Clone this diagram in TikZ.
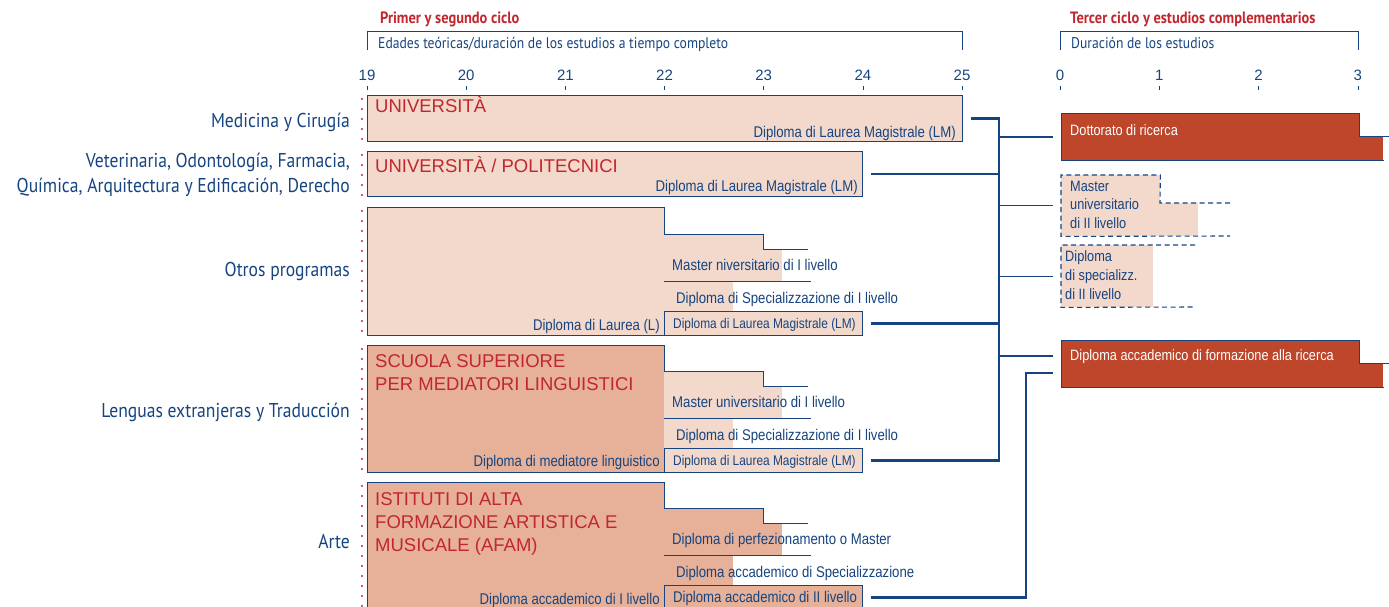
\documentclass[tikz,border=0pt]{standalone}
\usepackage{fontspec}
\setmainfont{Liberation Sans}
\newfontfamily\narrowfont{Liberation Sans}[FakeStretch=0.85]
\newfontfamily\condfont{PT Sans}[FakeStretch=0.88]
\usetikzlibrary{positioning,calc}
\definecolor{navy}{RGB}{22,68,128}
\definecolor{boxpink}{RGB}{243,217,204}
\definecolor{boxsalmon}{RGB}{230,177,152}
\definecolor{phdred}{RGB}{189,70,43}
\definecolor{titlered}{RGB}{193,39,45}

\begin{document}
\begin{tikzpicture}[x=1pt,y=-1pt,
   edge/.style={draw=navy,line width=0.9pt},
   box/.style={edge,inner sep=0pt,anchor=north west},
   link/.style={navy,line width=2.4pt},
   thinlink/.style={navy,line width=1pt},
   dashedge/.style={navy,line width=1.1pt,dash pattern=on 5pt off 3.5pt},
   reddots/.style={titlered,line width=2.4pt,line cap=round,dash pattern=on 0pt off 10pt},
   head/.style={font=\condfont\bfseries\fontsize{16.4}{18}\selectfont,text=titlered,anchor=base west,inner sep=0pt},
   headsub/.style={font=\condfont\fontsize{15.5}{18}\selectfont,text=navy,anchor=base west,inner sep=0pt},
   axisnum/.style={font=\fontsize{15}{18}\selectfont,text=navy,inner sep=0pt},
   rowlabel/.style={font=\condfont\fontsize{20}{25.5}\selectfont,text=navy,align=right,anchor=east,inner sep=0pt},
   inst/.style={font=\fontsize{18.5}{23}\selectfont,text=titlered,align=left,inner sep=0pt},
   diploma/.style={font=\narrowfont\fontsize{15.5}{18}\selectfont,text=navy,inner sep=0pt},
   smalldip/.style={diploma,font=\narrowfont\fontsize{14}{16}\selectfont},
   third/.style={font=\narrowfont\fontsize{15}{18.8}\selectfont,text=navy,align=left,anchor=north west,inner sep=0pt},
   phd/.style={font=\narrowfont\fontsize{15}{18}\selectfont,text=white,anchor=base west,inner sep=0pt}]
  \path[use as bounding box] (0,0) rectangle (1389,606);
  \clip (0,0) rectangle (1389,606);

  % headers and scales
  \node[head] (prim) at (380,23) {Primer y segundo ciclo};
  \node[headsub] (edad) at (378,48) {Edades teóricas/duración de los estudios a tiempo completo};
  \draw[edge] (367,50) |- (962,31) -- (962,50);
  \node[head] (terc) at (1070,23) {Tercer ciclo y estudios complementarios};
  \node[headsub] (durhead) at (1071,48) {Duración de los estudios};
  \draw[edge] (1060,50) |- (1358,31) -- (1358,50);
  \foreach \a [count=\i from 0] in {19,...,25} {
    \node[axisnum] (age\a) at (367+\i*99.17,75) {\a};
    \draw[edge,line width=0.6pt] (367+\i*99.17,86) -- ++(0,4);
  }
  \foreach \d in {0,...,3} {
    \node[axisnum] (yr\d) at (1060+\d*99.3,75) {\d};
    \draw[edge,line width=0.6pt] (1060+\d*99.3,86) -- ++(0,4);
  }

  % first and second cycle
  \node[box,fill=boxpink,minimum width=595,minimum height=46] (med) at (367,95) {};
  \node[box,fill=boxpink,minimum width=495,minimum height=45] (vet) at (367,151) {};
  \node[box,fill=boxpink,minimum width=297,minimum height=128] (otr) at (367,207) {};
  \node[box,fill=boxsalmon,minimum width=297,minimum height=127] (len) at (367,345) {};
  \node[box,fill=boxsalmon,minimum width=297,minimum height=130] (art) at (367,482) {};
  \foreach \b in {med,vet,otr,len,art}
    \draw[reddots] ([shift={(-5pt,-4pt)}]\b.north west) -- ([xshift=-5pt]\b.south west);

  \node[inst,anchor=base west] (medtit) at (375,112.5) {UNIVERSITÀ};
  \node[inst,anchor=base west] (vettit) at (375,172) {UNIVERSITÀ / POLITECNICI};
  \node[inst,anchor=north west] (lentit) at (375,354.5) {SCUOLA SUPERIORE\\PER MEDIATORI LINGUISTICI};
  \node[inst,anchor=north west] (arttit) at (375,492.5) {ISTITUTI DI ALTA\\FORMAZIONE ARTISTICA E\\MUSICALE (AFAM)};

  \node[diploma,anchor=base east] (medlm) at ([shift={(-7pt,4pt)}]med.south east) {Diploma di Laurea Magistrale (LM)};
  \node[diploma,anchor=base east] (vetlm) at ([shift={(-5pt,5pt)}]vet.south east) {Diploma di Laurea Magistrale (LM)};
  \node[diploma,anchor=base east] (otrl) at ([shift={(-5pt,5pt)}]otr.south east) {Diploma di Laurea (L)};
  \node[diploma,anchor=base east] (lenmed) at ([shift={(-5pt,6pt)}]len.south east) {Diploma di mediatore linguistico};
  \node[diploma,anchor=base east] (artacc) at ([shift={(-5pt,8pt)}]art.south east) {Diploma accademico di I livello};

  % follow-up courses
  \foreach \t/\fc/\nm/\st/\mas/\spe/\lmt in {
      234/boxpink/otr/smalldip/{Master niversitario di I livello}/{Diploma di Specializzazione di I livello}/{Diploma di Laurea Magistrale (LM)},
      371/boxpink/len/smalldip/{Master universitario di I livello}/{Diploma di Specializzazione di I livello}/{Diploma di Laurea Magistrale (LM)},
      508/boxsalmon/art/diploma/{Diploma di perfezionamento o Master}/{Diploma accademico di Specializzazione}/{Diploma accademico di II livello}} {
    \fill[\fc] (664,\t) rectangle (763,\t+16);
    \fill[\fc] (664,\t+15.5) rectangle (782,\t+47);
    \fill[\fc] (664,\t+47) rectangle (733,\t+77);
    \draw[edge] (664,\t) -| (763,\t+15.5) -- (808,\t+15.5);
    \draw[edge] (664,\t+47) -- (811,\t+47);
    \node[box,fill=\fc,minimum width=198,minimum height=24] (\nm-lm) at (664,\t+77) {};
    \node[diploma,anchor=base west] (\nm-mas) at (672,\t+36) {\mas};
    \node[diploma,anchor=base west] (\nm-spe) at (676,\t+69.5) {\spe};
    \node[\st,anchor=base west] (\nm-lmt) at (673,\t+94.5) {\lmt};
  }

  \node[rowlabel] (medrow) at ([shift={(-17pt,-4pt)}]med.west) {Medicina y Cirugía};
  \node[rowlabel] (vetrow) at ([shift={(-17pt,-1pt)}]vet.west) {Veterinaria, Odontología, Farmacia,\\Química, Arquitectura y Edificación, Derecho};
  \node[rowlabel] (otrrow) at ([xshift=-17pt]otr.west) {Otros programas};
  \node[rowlabel] (lenrow) at ([shift={(-17pt,-3pt)}]len.west) {Lenguas extranjeras y Traducción};
  \node[rowlabel] (artrow) at (350,541) {Arte};

  % third cycle
  \node[fill=phdred,inner sep=0pt,minimum width=298,minimum height=47,anchor=north west] (dott) at (1061,113) {};
  \fill[phdred] (dott.east) rectangle ([xshift=24pt]dott.south east);
  \draw[edge] (dott.south west) |- (dott.north east) -- (dott.east) -- ++(31,0);
  \draw[edge] (dott.south west) -- ++(323,0);
  \node[phd] (dottlab) at (1070,135.5) {Dottorato di ricerca};

  \node[fill=boxpink,inner sep=0pt,minimum width=99,minimum height=61,anchor=north west] (mast2) at (1061,175) {};
  \fill[boxpink] (1160,203) rectangle (1198,236);
  \draw[dashedge] (1230,203) -- (1160,203) -- (mast2.north east) -- (mast2.north west) -- (mast2.south west) -- (1230,236);
  \node[third] (mast2lab) at (1070,180.5) {Master\\universitario\\di II livello};

  \node[fill=boxpink,inner sep=0pt,minimum width=92,minimum height=62,anchor=north west] (spec2) at (1061,245) {};
  \draw[dashedge] (1195,245) -- (spec2.north west) -- (spec2.south west) -- (1195,307);
  \node[third] (spec2lab) at (1065,250.5) {Diploma\\di specializz.\\di II livello};

  \node[fill=phdred,inner sep=0pt,minimum width=298,minimum height=47,anchor=north west] (ric) at (1061,340) {};
  \fill[phdred] (ric.east) rectangle ([xshift=24pt]ric.south east);
  \draw[edge] (ric.south west) |- (ric.north east) -- (ric.east) -- ++(31,0);
  \draw[edge] (ric.south west) -- ++(323,0);
  \node[phd] (riclab) at (1070,360.5) {Diploma accademico di formazione alla ricerca};

  % connectors
  \coordinate (bus) at (999,0);
  \coordinate (ricin) at ([shift={(-8pt,7.5pt)}]ric.west);
  \coordinate (afamin) at ([shift={(-8pt,-9.5pt)}]ric.west);
  \draw[link] ([xshift=8pt]med.east) -| (len-lm.east -| bus) -- ([xshift=8pt]len-lm.east);
  \draw[link] ([xshift=8pt]vet.east) -- (vet.east -| bus);
  \draw[link] ([xshift=8pt]otr-lm.east) -- (otr-lm.east -| bus);
  \draw[link] (dott.west -| bus) -- ([xshift=-8pt]dott.west);
  \draw[thinlink] (mast2.west -| bus) -- ([xshift=-8pt]mast2.west);
  \draw[thinlink] (spec2.west -| bus) -- ([xshift=-8pt]spec2.west);
  \draw[link] (ricin -| bus) -- (ricin);
  \draw[link] ([xshift=8pt]art-lm.east) -| ([xshift=-27pt]afamin) -- (afamin);
\end{tikzpicture}
\end{document}
